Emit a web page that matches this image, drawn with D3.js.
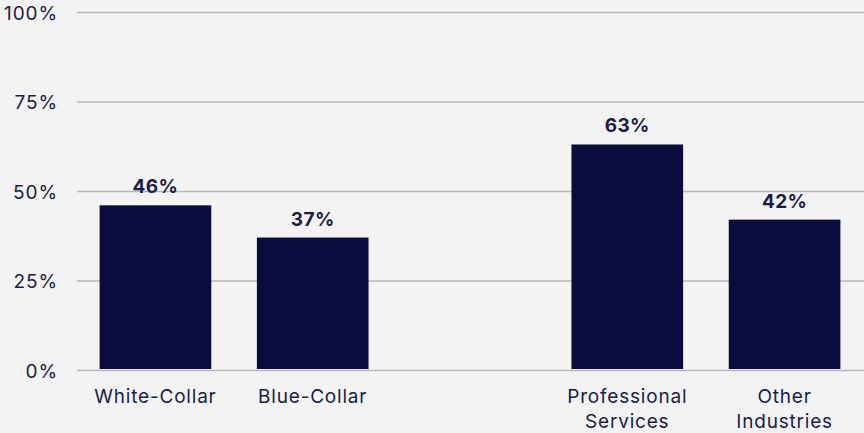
<!DOCTYPE html>
<html>
<head>
<meta charset="utf-8">
<script src="https://cdn.jsdelivr.net/npm/d3@7"></script>
<style>
  html, body { margin: 0; padding: 0; background: #f3f3f3; }
  svg { display: block; font-family: Inter, "Noto Sans", sans-serif; }
</style>
</head>
<body>
<script>
// categories (an empty slot separates the two groups)
var categories = ["White-Collar", "Blue-Collar", "", "Professional Services", "Other Industries"];
var labels = [["White-Collar"], ["Blue-Collar"], [], ["Professional", "Services"], ["Other", "Industries"]];
var values = [46, 37, null, 63, 42];
var yTicks = [0, 25, 50, 75, 100];

var width = 864, height = 433;
var textColor = "#1a1c4a";
var svg = d3.select("body").append("svg")
    .attr("width", width)
    .attr("height", height);

var y = d3.scaleLinear().domain([0, 100]).range([370, 12]);
var x = d3.scaleBand()
    .domain(categories.map((d, i) => i))
    .range([76, 864])
    .paddingInner(0.29)
    .paddingOuter(0.15);

// gridlines + y labels
var yAxis = d3.axisLeft(y)
    .tickValues(yTicks)
    .tickSize(-(864 - 77))
    .tickFormat(d => d + "%");
var gy = svg.append("g")
    .attr("transform", "translate(77,0)")
    .call(yAxis);
gy.select(".domain").remove();
gy.selectAll(".tick line")
    .attr("stroke", "#b8b8b8")
    .attr("stroke-width", 1.5);
gy.selectAll(".tick text")
    .attr("x", -19)
    .attr("dy", 7)
    .attr("fill", textColor)
    .style("font-size", "19px")
    .style("letter-spacing", "0.9px")
    .style("font-family", "Inter, 'Noto Sans', sans-serif");

// bars
var data = categories.map((c, i) => ({ i: i, c: c, v: values[i], lab: labels[i] }));
svg.selectAll("rect.bar")
    .data(data.filter(d => d.v != null))
    .enter()
    .append("rect")
    .attr("class", "bar")
    .attr("x", d => x(d.i))
    .attr("width", x.bandwidth())
    .attr("y", d => y(d.v))
    .attr("height", d => y(0) - y(d.v) - 1)
    .attr("fill", "#0a0c40");

// value labels
svg.selectAll("text.val")
    .data(data.filter(d => d.v != null))
    .enter()
    .append("text")
    .attr("class", "val")
    .attr("x", d => x(d.i) + x.bandwidth() / 2)
    .attr("y", d => y(d.v) - 12)
    .attr("text-anchor", "middle")
    .attr("fill", textColor)
    .style("font-size", "19px")
    .style("font-weight", "bold")
    .style("letter-spacing", "0.4px")
    .text(d => d.v + "%");

// x labels
var xl = svg.selectAll("text.xl")
    .data(data)
    .enter()
    .append("text")
    .attr("class", "xl")
    .attr("text-anchor", "middle")
    .attr("fill", textColor)
    .style("font-size", "19px")
    .style("letter-spacing", "0.8px");
xl.selectAll("tspan")
    .data(d => d.lab.map(t => ({ t: t, cx: x(d.i) + x.bandwidth() / 2 })))
    .enter()
    .append("tspan")
    .attr("x", d => d.cx)
    .attr("y", (d, j) => 403 + j * 25)
    .text(d => d.t);
</script>
</body>
</html>
